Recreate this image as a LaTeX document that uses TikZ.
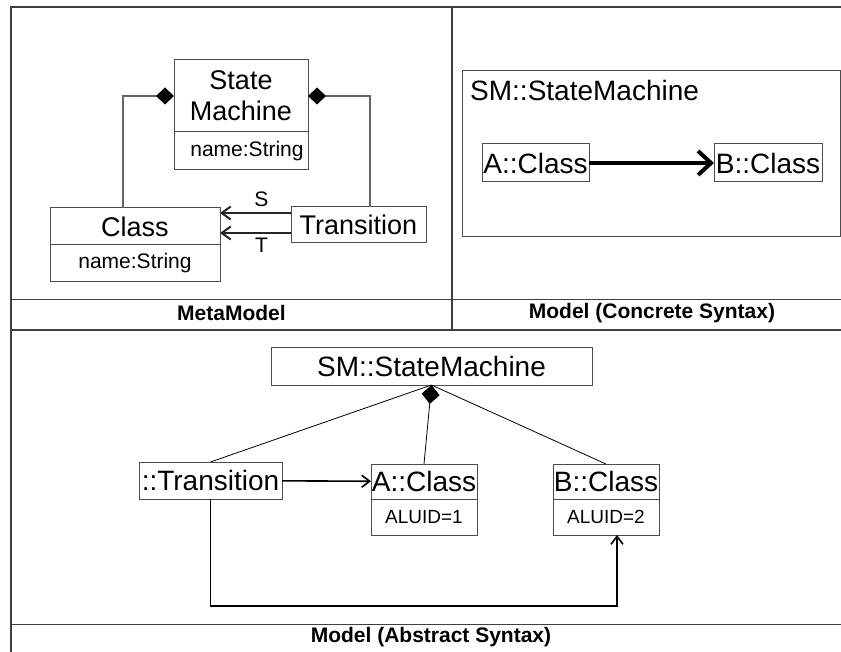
\documentclass[tikz,border=0pt]{standalone}
\usepackage{fontspec}
\setmainfont{Liberation Sans}
\usetikzlibrary{arrows.meta, positioning}
\tikzset{
    frame/.style={draw=black!75, line width=1.5pt},
    box/.style={draw=black!70, line width=1pt, rectangle, inner sep=0pt, outer sep=0pt, align=center},
    classtext/.style={font=\fontsize{27}{31}\selectfont},
    objtext/.style={font=\fontsize{28}{32}\selectfont},
    attrtext/.style={font=\fontsize{21}{24}\selectfont},
    idtext/.style={font=\fontsize{19}{22}\selectfont},
    caption/.style={font=\fontsize{21}{24}\selectfont\bfseries, inner sep=0pt},
    comp/.style={draw=black!60, line width=1.2pt, {Diamond[length=18pt, width=17pt, color=black]}-},
    assoc/.style={draw=black!85, line width=2pt, -{Straight Barb[length=9pt, width=13pt]}},
    link/.style={draw=black, line width=1.6pt, -{Straight Barb[length=8pt, width=12pt]}},
    heavy/.style={draw=black, line width=4pt, -{Straight Barb[length=13pt, width=24pt]}}
}
\begin{document}
\begin{tikzpicture}[x=1pt, y=-1pt]
\useasboundingbox (0,0) rectangle (841,652);
% frame
\draw[frame] (11,652) -- (11,7) -- (841,7);
\draw[frame] (452,7) -- (452,330);
\draw[frame, line width=1pt] (11,300) -- (841,300);
\draw[frame, line width=2pt] (11,330) -- (841,330);
\draw[frame, line width=1pt] (11,624) -- (841,624);
\node[caption] (mmcap) at (231.5,313) {MetaModel};
\node[caption] (cscap) at (652,313) {Model (Concrete Syntax)};
\node[caption] (ascap) at (431,637) {Model (Abstract Syntax)};

% metamodel
\node[box, classtext, minimum width=134pt, minimum height=72pt] (smname) at (241,96) {State\\Machine};
\node[box, attrtext, minimum width=134pt, minimum height=38pt, below=0pt of smname] (smattr) {\hspace{12pt}name:String};
\node[box, classtext, minimum width=170pt, minimum height=37pt] (clsname) at (135,226.5) {Class};
\node[box, attrtext, minimum width=170pt, minimum height=37pt, below=0pt of clsname] (clsattr) {name:String};
\node[box, classtext, minimum width=135pt, minimum height=36pt] (trans) at (358.5,225) {Transition};
\draw[comp] (smname.west) -| ([xshift=-12pt]clsname.north);
\draw[comp] (smname.east) -| ([xshift=11.5pt]trans.north);
\draw[assoc] ([yshift=12pt]trans.west) -- ([yshift=12pt]trans.west -| clsname.east)
    node[attrtext, midway, above=5pt, inner sep=0pt, xshift=6pt] (slbl) {S};
\draw[assoc] ([yshift=-8pt]trans.west) -- ([yshift=-8pt]trans.west -| clsname.east)
    node[attrtext, midway, below=4pt, inner sep=0pt, xshift=6pt] (tlbl) {T};

% concrete syntax
\node[box, minimum width=378pt, minimum height=166pt] (smc) at (651,154) {};
\node[objtext, anchor=west, inner sep=0pt] (smctitle) at (470,90) {SM::StateMachine};
\node[box, objtext, minimum width=107pt, minimum height=38pt] (acls) at (535.5,163) {A::Class};
\node[box, objtext, minimum width=108pt, minimum height=38pt] (bcls) at (768,163) {B::Class};
\draw[heavy] (acls) -- (bcls);

% abstract syntax
\node[box, objtext, minimum width=321pt, minimum height=37pt] (sma) at (431.5,366.5) {SM::StateMachine};
\node[box, objtext, minimum width=143pt, minimum height=37pt] (tra) at (210.5,480.5) {::Transition};
\node[box, objtext, minimum width=106pt, minimum height=35pt] (aname) at (424,481.5) {A::Class};
\node[box, idtext, minimum width=106pt, minimum height=36pt, below=0pt of aname] (aattr) {ALUID=1};
\node[box, objtext, minimum width=106pt, minimum height=35pt] (bname) at (606,481.5) {B::Class};
\node[box, idtext, minimum width=106pt, minimum height=36pt, below=0pt of bname] (battr) {ALUID=2};
\draw[comp, draw=black, line width=0.8pt, {Diamond[length=19pt, width=18pt, color=black]}-] (sma.south) -- (aname.north);
\draw[black, line width=0.8pt] (sma.south) -- (tra.north);
\draw[black, line width=0.8pt] (sma.south) -- (bname.north);
\draw[link] (tra) -- (aname);
\draw[link] (tra.south) -- ++(0,107) -| ([xshift=11pt]battr.south);
\end{tikzpicture}
\end{document}
